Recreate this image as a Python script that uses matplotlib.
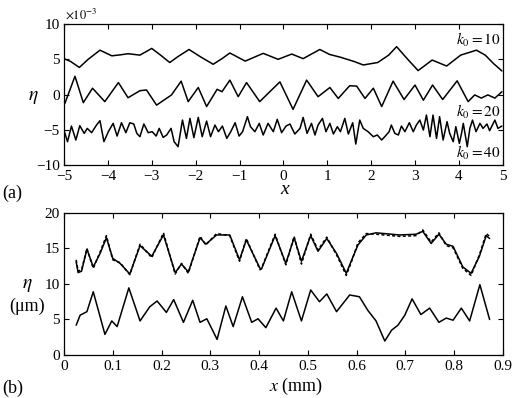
import matplotlib
matplotlib.use("Agg")
import matplotlib.pyplot as plt

plt.rcParams['font.family'] = 'Liberation Serif'
plt.rcParams['mathtext.fontset'] = 'stix'

# ---- panel (a): eta (x1e-3) vs x ----
xa_10 = [-5.0, -4.85, -4.65, -4.45, -4.18, -3.91, -3.7, -3.54, -3.27, -3.0, -2.8, -2.59, -2.4,
         -2.15, -1.9, -1.6, -1.4, -1.22, -0.87, -0.46, -0.12, 0.19, 0.45, 0.83, 1.05, 1.3,
         1.61, 1.82, 2.15, 2.4, 2.58, 2.82, 3.07, 3.39, 3.72, 4.04, 4.4, 4.6, 4.79, 4.98]
ya_10 = [5.1, 4.7, 3.85, 5.0, 6.3, 5.5, 5.65, 5.8, 5.6, 6.55, 5.6, 4.55, 5.4,
         6.4, 5.4, 4.3, 5.1, 5.9, 4.75, 5.85, 5.0, 5.75, 5.1, 6.4, 5.7, 5.3,
         4.7, 4.2, 4.55, 5.6, 6.8, 5.1, 3.4, 4.9, 4.05, 5.6, 6.3, 5.6, 4.4, 3.35]

xa_20 = [-4.98, -4.75, -4.56, -4.35, -4.07, -3.76, -3.54, -3.27, -3.12, -2.89, -2.55, -2.33, -2.17,
         -1.94, -1.75, -1.51, -1.4, -1.22, -1.03, -0.84, -0.54, -0.08, 0.22, 0.53, 0.79, 1.06, 1.25,
         1.51, 1.67, 1.86, 2.05, 2.24, 2.5, 2.75, 3.0, 3.19, 3.4, 3.63, 3.96, 4.21, 4.36, 4.51,
         4.66, 4.82, 4.98]
ya_20 = [-1.25, 2.6, -1.15, 0.9, -1.0, 1.7, -0.45, 0.55, 0.65, -1.5, -0.05, 1.9, -1.0,
         1.0, -1.7, 0.75, 0.4, 2.05, -0.3, 1.7, -1.0, 1.8, -2.1, 2.05, -0.3, 1.0, -0.55,
         1.25, 1.2, -0.55, 0.9, -1.7, 1.9, -0.7, 1.35, -0.8, 1.35, -0.7, 1.95, -1.0, -0.05, -0.5,
         -0.05, -0.5, 0.4]

xa_40 = [-4.99, -4.92, -4.83, -4.73, -4.64, -4.54, -4.47, -4.37, -4.26, -4.18,
         -4.09, -3.99, -3.88, -3.79, -3.69, -3.59, -3.50, -3.41, -3.34, -3.27,
         -3.18, -3.08, -2.99, -2.90, -2.83, -2.74, -2.66, -2.56, -2.49, -2.40,
         -2.30, -2.21, -2.13, -2.04, -1.94, -1.85, -1.75, -1.66, -1.56, -1.48,
         -1.39, -1.29, -1.20, -1.10, -1.01, -0.93, -0.82, -0.75, -0.65, -0.55,
         -0.46, -0.35, -0.23, -0.14, -0.04, 0.06, 0.15, 0.26, 0.38, 0.45,
         0.54, 0.64, 0.72, 0.79, 0.89, 0.97, 1.06, 1.14, 1.23, 1.30,
         1.40, 1.48, 1.58, 1.65, 1.74, 1.82, 1.93, 2.05, 2.14, 2.24,
         2.31, 2.41, 2.46, 2.54, 2.62, 2.69, 2.77, 2.87, 2.96, 3.03,
         3.11, 3.19, 3.26, 3.34, 3.41, 3.49, 3.56, 3.64, 3.73, 3.79,
         3.87, 3.93, 4.01, 4.06, 4.10, 4.19, 4.25, 4.31, 4.39, 4.48,
         4.55, 4.64, 4.70, 4.82, 4.89, 4.98]
ya_40 = [-5.27, -6.69, -4.47, -6.45, -4.42, -5.51, -4.80, -5.41, -4.33, -3.71,
         -6.69, -5.27, -4.09, -5.89, -4.00, -5.41, -4.00, -4.18, -5.51, -5.98,
         -4.18, -5.41, -5.27, -5.89, -4.80, -6.08, -5.74, -4.80, -6.69, -7.40,
         -3.62, -6.22, -3.38, -6.12, -3.24, -5.98, -3.76, -5.98, -4.33, -5.27,
         -4.47, -6.22, -5.27, -4.00, -5.89, -5.27, -3.14, -4.56, -5.27, -4.09,
         -5.74, -4.09, -5.27, -3.52, -5.41, -4.47, -4.18, -5.60, -4.80, -3.24,
         -5.51, -4.09, -5.74, -4.33, -3.38, -5.27, -4.09, -5.60, -4.56, -5.27,
         -3.38, -5.60, -4.00, -7.02, -3.62, -4.80, -5.27, -5.98, -5.74, -6.45,
         -5.98, -5.27, -4.33, -5.51, -5.74, -4.47, -5.27, -4.00, -5.27, -4.33,
         -3.62, -5.04, -2.91, -5.98, -2.91, -6.22, -3.14, -6.45, -3.85, -5.51,
         -6.69, -4.56, -6.93, -5.51, -4.09, -7.40, -4.80, -3.62, -5.27, -4.09,
         -4.80, -4.18, -5.13, -3.62, -4.80, -4.47]

# ---- panel (b): eta (um) vs x (mm) ----
xb_up = [0.025, 0.029, 0.036, 0.047, 0.06, 0.074, 0.087, 0.1, 0.115, 0.135, 0.156, 0.18, 0.204,
         0.228, 0.241, 0.255, 0.279, 0.291, 0.313, 0.34, 0.36, 0.374, 0.402, 0.405, 0.433, 0.455,
         0.472, 0.487, 0.506, 0.521, 0.539, 0.559, 0.579, 0.589, 0.603, 0.62, 0.64, 0.688, 0.722,
         0.736, 0.753, 0.769, 0.784, 0.798, 0.818, 0.835, 0.852, 0.866, 0.873]
yb_up = [13.1, 11.6, 11.8, 14.9, 12.4, 14.3, 16.5, 13.6, 12.9, 11.4, 15.4, 13.9, 16.9,
         11.6, 12.8, 11.7, 16.5, 15.6, 16.9, 16.9, 13.4, 16.2, 12.2, 12.1, 16.8, 12.9,
         16.5, 13.2, 16.8, 14.6, 16.4, 14.3, 11.5, 13.2, 15.5, 16.9, 17.2, 16.9, 17.0,
         17.4, 15.7, 17.0, 15.6, 15.3, 12.4, 11.5, 13.9, 16.8, 16.4]
yb_dash = [13.4, 11.8, 12.0, 15.0, 12.2, 14.5, 16.8, 13.4, 13.0, 11.3, 15.6, 13.7, 17.2,
           11.4, 12.9, 11.5, 16.7, 15.5, 17.1, 16.8, 13.2, 16.4, 12.0, 12.2, 17.0, 12.7,
           16.7, 12.8, 17.0, 14.8, 16.6, 14.1, 11.2, 13.0, 15.8, 17.1, 17.0, 16.7, 16.8,
           17.6, 15.9, 17.2, 15.4, 15.1, 12.2, 11.2, 14.1, 17.1, 16.7]

xb_low = [0.025, 0.033, 0.047, 0.06, 0.084, 0.098, 0.109, 0.133, 0.156, 0.176, 0.191, 0.21,
          0.225, 0.245, 0.264, 0.279, 0.293, 0.314, 0.332, 0.347, 0.366, 0.385, 0.398, 0.414,
          0.435, 0.45, 0.467, 0.487, 0.506, 0.524, 0.539, 0.559, 0.586, 0.606, 0.623, 0.64,
          0.658, 0.672, 0.685, 0.699, 0.714, 0.732, 0.75, 0.769, 0.784, 0.798, 0.815, 0.832,
          0.853, 0.873]
yb_low = [4.2, 5.6, 6.1, 8.9, 2.9, 4.8, 4.0, 9.45, 4.8, 6.8, 7.6, 6.0,
          7.8, 4.6, 7.7, 4.6, 5.1, 2.2, 6.9, 4.0, 8.2, 4.6, 5.1, 3.85,
          6.6, 4.8, 8.9, 4.8, 9.15, 7.5, 8.6, 6.1, 8.45, 8.2, 6.3, 4.8,
          1.97, 3.5, 4.2, 5.6, 7.9, 5.7, 6.6, 4.6, 5.2, 4.9, 6.6, 4.8,
          9.9, 5.0]

fig = plt.figure(figsize=(5.12, 3.98), dpi=100)
ax1 = fig.add_axes([0.125, 0.5854, 0.857, 0.354])
ax2 = fig.add_axes([0.125, 0.108, 0.857, 0.357])

lw = 1.1
line_kw = dict(color='black', lw=lw, solid_joinstyle='round', solid_capstyle='round')
ax1.plot(xa_10, ya_10, **line_kw)
ax1.plot(xa_20, ya_20, **line_kw)
ax1.plot(xa_40, ya_40, **line_kw)
ax1.set_xlim(-5, 5)
ax1.set_ylim(-10, 10)
ax1.set_xticks(range(-5, 6))
ax1.set_yticks([-10, -5, 0, 5, 10])
ax1.set_xticklabels(['\u22125', '\u22124', '\u22123', '\u22122', '\u22121', '0', '1', '2', '3', '4', '5'])
ax1.set_yticklabels(['\u221210', '\u22125', '0', '5', '10'])
ax1.text(4.95, 7.7, r'$k_0=10$', ha='right', va='center', fontsize=11)
ax1.text(4.95, -2.5, r'$k_0=20$', ha='right', va='center', fontsize=11)
ax1.text(4.95, -8.3, r'$k_0=40$', ha='right', va='center', fontsize=11)
ax1.text(-4.97, 10.4, r'$\times 10^{-3}$', ha='left', va='bottom', fontsize=9)

ax2.plot(xb_up, yb_dash, color='black', lw=lw, ls=(0, (2, 1.5)))
ax2.plot(xb_up, yb_up, **line_kw)
ax2.plot(xb_low, yb_low, **line_kw)
ax2.set_xlim(0, 0.9)
ax2.set_ylim(0, 20)
ax2.set_xticks([0, 0.1, 0.2, 0.3, 0.4, 0.5, 0.6, 0.7, 0.8, 0.9])
ax2.set_xticklabels(['0', '0.1', '0.2', '0.3', '0.4', '0.5', '0.6', '0.7', '0.8', '0.9'])
ax2.set_yticks([0, 5, 10, 15, 20])

for ax in (ax1, ax2):
    ax.tick_params(direction='in', top=True, right=True, labelsize=11, length=3.5, width=0.8)
    ax.tick_params(axis='x', pad=3.5)
    ax.tick_params(axis='y', pad=3)
    for s in ax.spines.values():
        s.set_linewidth(0.9)

fig.text(33 / 512, 1 - 97 / 398, r'$\eta$', fontsize=14, ha='center', va='center')
fig.text(285 / 512, 1 - 190 / 398, 'x', fontsize=14, style='italic', ha='center', va='center')
fig.text(2 / 512, 1 - 193 / 398, '(a)', fontsize=13, ha='left', va='center')

fig.text(27 / 512, 1 - 285 / 398, r'$\eta$', fontsize=14, ha='center', va='center')
fig.text(27 / 512, 1 - 306 / 398, '(\u03bcm)', fontsize=13, ha='center', va='center')
fig.text(296 / 512, 1 - 386 / 398, r'$x$ (mm)', fontsize=13, ha='center', va='center')
fig.text(2 / 512, 1 - 388 / 398, '(b)', fontsize=13, ha='left', va='center')

fig.savefig('out.png', dpi=100)
